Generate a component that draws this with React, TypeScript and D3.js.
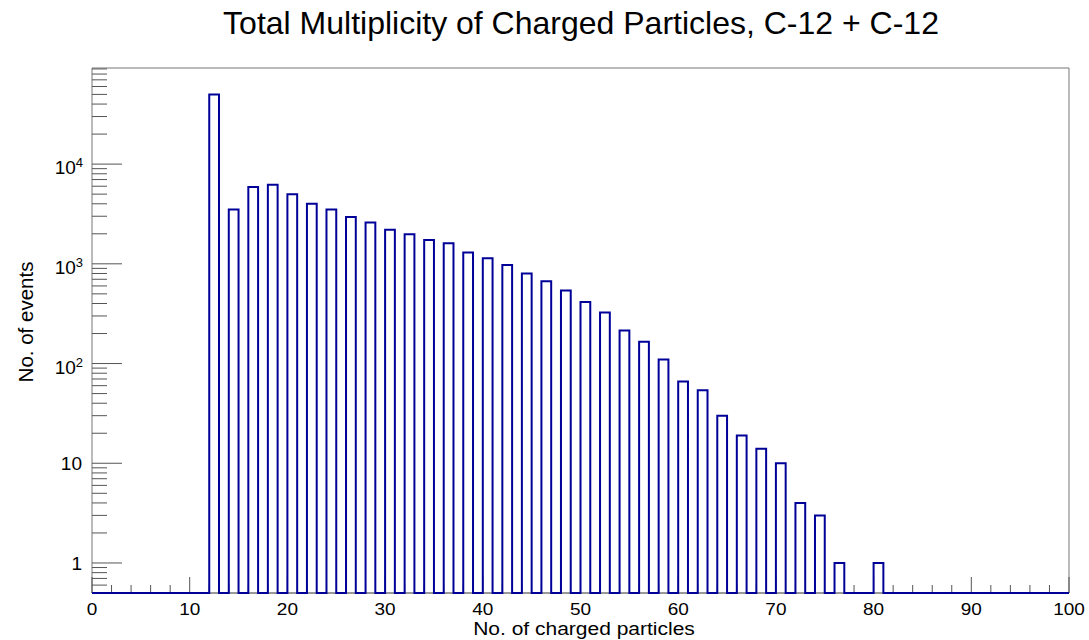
import React from 'react'
import * as d3 from 'd3'

// histogram contents (bin low edge -> events), all other bins are empty
const binLows = [12, 14, 16, 18, 20, 22, 24, 26, 28, 30, 32, 34, 36, 38, 40, 42, 44, 46, 48, 50, 52, 54, 56, 58, 60, 62, 64, 66, 68, 70, 72, 74, 76, 80]
const counts = [50000, 3500, 5900, 6200, 5000, 4000, 3500, 2950, 2600, 2200, 1980, 1730, 1610, 1300, 1140, 975, 800, 670, 540, 415, 325, 215, 165, 110, 66, 54, 30, 19, 14, 10, 4, 3, 1, 1]

const nBins = 100
const xTickLabels = ['0', '10', '20', '30', '40', '50', '60', '70', '80', '90', '100']
const yDecades = [1, 10, 100, 1000, 10000]
const yTickLabels = ['1', '10', '10|2', '10|3', '10|4']

const W = 1089
const H = 640
const frame = { left: 92, right: 1069, top: 68, bottom: 593 }
const yMin = 0.5
const yMax = 92000
const font = 'Liberation Sans, Arial, Helvetica, sans-serif'

const App: React.FC = () => {
  const x = d3.scaleLinear().domain([0, nBins]).range([frame.left, frame.right])
  const y = d3.scaleLog().domain([yMin, yMax]).range([frame.bottom, frame.top])

  const full = new Array(nBins).fill(0)
  binLows.forEach((b, i) => (full[b] = counts[i]))

  // step outline like ROOT's HIST option; empty bins sit on the bottom
  const pts: [number, number][] = [[0, yMin]]
  full.forEach((c, i) => {
    const v = c > 0 ? c : yMin
    pts.push([i, v])
    pts.push([i + 1, v])
  })
  pts.push([nBins, yMin])
  const line = d3
    .line<[number, number]>()
    .x((d) => x(d[0]))
    .y((d) => y(d[1]))

  const xMinor = d3.range(0, nBins + 1, 2).filter((v) => v % 10 !== 0)
  const xMajor = d3.range(0, nBins + 1, 10)

  const yMinor: number[] = []
  for (let e = -1; e <= 4; e++) {
    for (let m = 2; m <= 9; m++) {
      const v = m * Math.pow(10, e)
      if (v > yMin && v < yMax) yMinor.push(v)
    }
  }

  return (
    <svg width={W} height={H} style={{ position: 'absolute', left: 0, top: 0, background: '#fff' }}>
      <text x={581} y={34} textAnchor="middle" fontFamily={font} fontSize={32} fill="#000">
        Total Multiplicity of Charged Particles, C-12 + C-12
      </text>

      {/* frame */}
      <line x1={frame.left} x2={frame.right} y1={frame.top} y2={frame.top} stroke="#777" strokeWidth={1} />
      <line x1={frame.right} x2={frame.right} y1={frame.top} y2={frame.bottom} stroke="#777" strokeWidth={1} />
      <line x1={frame.left} x2={frame.left} y1={frame.top} y2={frame.bottom} stroke="#777" strokeWidth={1} />

      {/* x axis */}
      <line x1={frame.left} x2={frame.right} y1={frame.bottom} y2={frame.bottom} stroke="#333" strokeWidth={1} />
      {xMinor.map((v) => (
        <line key={'xm' + v} x1={x(v)} x2={x(v)} y1={frame.bottom} y2={frame.bottom - 8} stroke="#555" strokeWidth={1} />
      ))}
      {xMajor.map((v, i) => (
        <g key={'xM' + v}>
          <line x1={x(v)} x2={x(v)} y1={frame.bottom} y2={frame.bottom - 16} stroke="#555" strokeWidth={1} />
          <text
            transform={`translate(${x(v)},615) scale(1,0.88)`}
            textAnchor="middle"
            fontFamily={font}
            fontSize={19}
            fill="#000"
          >
            {xTickLabels[i]}
          </text>
        </g>
      ))}
      <text transform="translate(584,635) scale(1,0.88)" textAnchor="middle" fontFamily={font} fontSize={21} fill="#000">
        No. of charged particles
      </text>

      {/* y axis */}
      {yMinor.map((v) => (
        <line key={'ym' + v} x1={frame.left} x2={frame.left + 15} y1={y(v)} y2={y(v)} stroke="#555" strokeWidth={1} />
      ))}
      {yDecades.map((v, i) => {
        const [base, exp] = yTickLabels[i].split('|')
        return (
          <g key={'yM' + v}>
            <line x1={frame.left} x2={frame.left + 30} y1={y(v)} y2={y(v)} stroke="#555" strokeWidth={1} />
            {exp ? (
              <text x={83} y={y(v) + 10} textAnchor="end" fontFamily={font} fontSize={19} fill="#000">
                {base}
                <tspan fontSize={13} dy={-7}>
                  {exp}
                </tspan>
              </text>
            ) : (
              <text x={82} y={y(v) + 7} textAnchor="end" fontFamily={font} fontSize={19} fill="#000">
                {base}
              </text>
            )}
          </g>
        )
      })}
      <text transform="translate(33,322) rotate(-90)" textAnchor="middle" fontFamily={font} fontSize={20.5} fill="#000">
        No. of events
      </text>

      {/* histogram */}
      <path d={line(pts) ?? ''} fill="none" stroke="#000099" strokeWidth={2} strokeLinejoin="miter" />
    </svg>
  )
}

export default App
